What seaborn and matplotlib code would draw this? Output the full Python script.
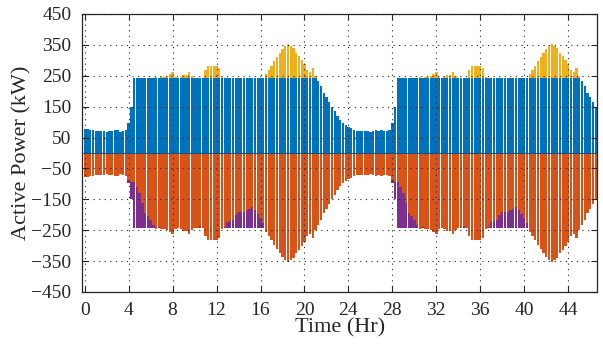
import numpy as np
import matplotlib
matplotlib.use('Agg')
import matplotlib.pyplot as plt
import seaborn as sns

# load profile (kW), one value per 15 min
load_day1 = [
    78, 78, 75, 75, 72, 71, 71, 71,
    69, 72, 71, 73, 74, 69, 71, 76,
    86, 93, 95, 110, 128, 162, 194, 205,
    218, 234, 245, 240, 245, 245, 250, 257,
    261, 247, 244, 247, 254, 254, 261, 250,
    244, 244, 236, 244, 270, 283, 283, 283,
    283, 274, 245, 238, 224, 220, 216, 202,
    191, 191, 191, 186, 180, 175, 184, 199,
    209, 227, 255, 268, 283, 298, 311, 324,
    337, 345, 352, 348, 339, 324, 315, 302,
    287, 270, 263, 274, 250, 234, 216, 195,
    180, 165, 150, 135, 120, 107, 97, 90,
]
load_day2 = [
    84, 80, 76, 72, 71, 71, 71, 71,
    69, 71, 73, 72, 74, 71, 71, 75,
    86, 93, 95, 110, 128, 162, 194, 205,
    218, 234, 245, 240, 245, 245, 250, 257,
    261, 247, 244, 247, 254, 254, 261, 250,
    244, 244, 236, 244, 270, 283, 283, 283,
    283, 274, 245, 238, 224, 220, 216, 202,
    191, 191, 191, 186, 180, 175, 184, 199,
    209, 227, 255, 268, 283, 298, 311, 324,
    337, 345, 352, 348, 339, 324, 315, 302,
    287, 270, 263, 274, 250, 234, 216, 195,
    180, 165, 150,
]
# grid import (kW)
grid_day1 = [
    78, 78, 75, 75, 72, 71, 71, 71,
    69, 72, 71, 73, 74, 69, 71, 76,
    98, 150, 243, 243, 243, 243, 243, 243,
] + [243] * 56 + [
    243, 243, 243, 243, 243, 234, 216, 195,
    180, 165, 150, 135, 120, 107, 97, 90,
]
grid_day2 = [
    84, 80, 76, 72, 71, 71, 71, 71,
    69, 71, 73, 72, 74, 71, 71, 75,
    98, 150, 243, 243, 243, 243, 243, 243,
] + [243] * 56 + [
    243, 243, 243, 243, 243, 234, 216, 195,
    180, 165, 150,
]

BLUE = '#0072BD'
ORANGE = '#D95319'
YELLOW = '#EDB120'
PURPLE = '#7E2F8E'

load = np.array(load_day1 + load_day2, dtype=float)
grid = np.array(grid_day1 + grid_day2, dtype=float)
hours = np.arange(len(load)) * 0.25
top = np.maximum(load, grid)

sns.set_style('ticks')
plt.rcParams['font.family'] = ['Liberation Serif', 'DejaVu Serif']

fig = plt.figure(figsize=(6.03, 3.51), dpi=100)
ax = fig.add_axes([82.5 / 603, 1 - 292 / 351, (597 - 82.5) / 603, (292 - 14) / 351])

kw = dict(native_scale=True, errorbar=None, saturation=1, width=0.85,
          edgecolor='none', linewidth=0, ax=ax)
sns.barplot(x=hours, y=top, color=YELLOW, **kw)
sns.barplot(x=hours, y=grid, color=BLUE, **kw)
sns.barplot(x=hours, y=-top, color=PURPLE, **kw)
sns.barplot(x=hours, y=-load, color=ORANGE, **kw)
ax.axhline(0, color='#1d4f80', lw=0.8, zorder=3)

ax.set_xlim(-0.2, 46.62)
ax.set_ylim(-450, 450)
ax.set_yticks(np.arange(-450, 451, 100))
ax.set_xticks(np.arange(0, 45, 4))
ax.grid(True, linestyle=(0, (1, 4)), color='#222222', linewidth=0.8)
ax.set_axisbelow(False)
ax.tick_params(direction='in', top=True, right=True, length=4, width=0.8,
               labelsize=14, colors='#262626')
ax.tick_params(axis='x', pad=7)
ax.tick_params(axis='y', pad=8)
for s in ax.spines.values():
    s.set_linewidth(0.9)
    s.set_color('#262626')
ax.set_xlabel('Time (Hr)', fontsize=16, labelpad=0)
ax.set_ylabel('Active Power (kW)', fontsize=16, labelpad=0)

fig.savefig('out.png', dpi=100)
